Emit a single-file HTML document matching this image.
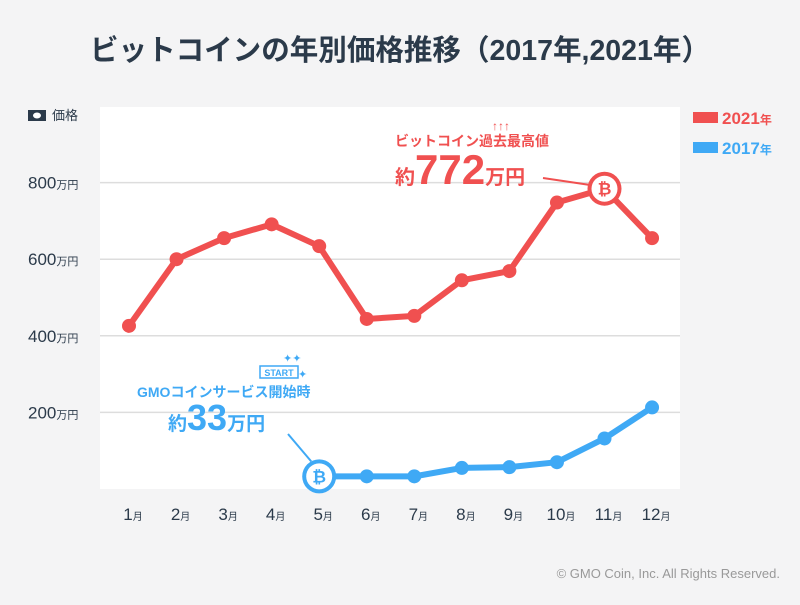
<!DOCTYPE html>
<html><head><meta charset="utf-8"><style>
body{margin:0;width:800px;height:600px;background:#f4f4f5;font-family:"Liberation Sans","Noto Sans CJK JP",sans-serif;overflow:hidden}
svg text{font-family:"Liberation Sans","Noto Sans CJK JP",sans-serif}
</style></head><body>
<svg id="chart" width="800" height="600" viewBox="0 0 800 600">
<text x="400" y="60" text-anchor="middle" font-size="29" font-weight="bold" fill="#2b3a4a" textLength="620" lengthAdjust="spacingAndGlyphs">ビットコインの年別価格推移（2017年,2021年）</text>
<rect x="100" y="107" width="580" height="382" fill="#fff"/>
<g id="grid"></g>
<g>
<rect x="28" y="110" width="18" height="11" fill="#2b3a4a"/><ellipse cx="37" cy="115.5" rx="4" ry="3" fill="#fff"/>
<text x="52" y="120" font-size="13" fill="#2b3a4a">価格</text></g>
<g id="yticks"></g><g id="xticks"></g>
<g>
<rect x="693" y="112" width="25" height="11" fill="#f05050"/>
<text x="722" y="124" font-size="17" font-weight="bold" fill="#f05050">2021<tspan font-size="12">年</tspan></text>
<rect x="693" y="142" width="25" height="11" fill="#3fa9f5"/>
<text x="722" y="154" font-size="17" font-weight="bold" fill="#3fa9f5">2017<tspan font-size="12">年</tspan></text>
</g>
<g id="series"></g>
<g id="annot"></g>
<text x="780" y="578" text-anchor="end" font-size="13" fill="#999">© GMO Coin, Inc. All Rights Reserved.</text>
</svg>
<script>
const months=["1月","2月","3月","4月","5月","6月","7月","8月","9月","10月","11月","12月"];
const yTicks=[200,400,600,800];
const values2021=[426,600,655,691,634,444,452,545,569,748,784,655];
const values2017=[null,null,null,null,33,33,33,55,57,70,132,213];
const NS="http://www.w3.org/2000/svg";
function x(i){return 129+i*47.55;}
function y(v){return 489-v*0.383;}
function mk(tag,attrs,parent){const e=document.createElementNS(NS,tag);for(const k in attrs)e.setAttribute(k,attrs[k]);parent.appendChild(e);return e;}
const grid=document.getElementById('grid'),yt=document.getElementById('yticks'),xt=document.getElementById('xticks');
yTicks.forEach(v=>{
 const l=mk('line',{x1:100,x2:680,y1:y(v),y2:y(v),stroke:'#ddd','stroke-width':1.5},grid);
 
 
 const t=mk('text',{x:28,y:y(v)+6,'font-size':17,fill:'#2b3a4a'},yt);
 
 
 t.innerHTML=v+'<tspan font-size="11">万円</tspan>';
});
months.forEach((m,i)=>{
 const t=mk('text',{x:x(i)+4,y:520,'text-anchor':'middle','font-size':17,fill:'#2b3a4a'},xt);
 
 
 t.innerHTML=m.replace('月','')+'<tspan font-size="10">月</tspan>';
});
const S=document.getElementById('series');
function drawSeries(vals,color,name){
 const pts=[];vals.forEach((v,i)=>{if(v!==null)pts.push([x(i),y(v),i]);});
 const p=mk('polyline',{points:pts.map(p=>p[0]+','+p[1]).join(' '),fill:'none',stroke:color,'stroke-width':6,'stroke-linejoin':'round'},S);
 
 
 pts.forEach(pt=>{
  const c=mk('circle',{cx:pt[0],cy:pt[1],r:7,fill:color},S);
  
  
 });
 return pts;
}
const p21=drawSeries(values2021,'#f05050','series-2021');
const p17=drawSeries(values2017,'#3fa9f5','series-2017');
const A=document.getElementById('annot');
function coin(cx,cy,color,name){
 const g=mk('g',{},A);
 
 
 mk('circle',{cx:cx,cy:cy,r:17,fill:color},g);
 mk('circle',{cx:cx,cy:cy,r:13,fill:'#fff'},g);
 mk('text',{x:cx,y:cy+6,'text-anchor':'middle','font-size':17,'font-weight':'bold',fill:color},g).textContent='₿';
}
const mx=p21[10];
mk('line',{x1:543,y1:178,x2:mx[0]-16,y2:mx[1]-4,stroke:'#f05050','stroke-width':2},A);
coin(mx[0],mx[1],'#f05050','max-coin-marker');
let t=mk('text',{x:395,y:146,'font-size':14,'font-weight':'bold',fill:'#f05050'},A);


t.textContent='ビットコイン過去最高値';
t=mk('text',{x:395,y:184,'font-size':20,'font-weight':'bold',fill:'#f05050'},A);


t.innerHTML='約<tspan font-size="42">772</tspan>万円';
t=mk('text',{x:492,y:130,'font-size':12,'font-weight':'bold',fill:'#f05050'},A);
t.textContent='↑↑↑';
const st=p17[0];
mk('line',{x1:288,y1:434,x2:st[0]-8,y2:st[1]-15,stroke:'#3fa9f5','stroke-width':2},A);
coin(st[0],st[1],'#3fa9f5','start-coin-marker');
const sb=mk('g',{},A);


mk('rect',{x:260,y:366,width:38,height:12,fill:'#fff',stroke:'#3fa9f5','stroke-width':1.5},sb);
mk('text',{x:279,y:376,'text-anchor':'middle','font-size':9,'font-weight':'bold',fill:'#3fa9f5'},sb).textContent='START';
mk('text',{x:283,y:362,'font-size':11,fill:'#3fa9f5'},sb).textContent='✦✦';
mk('text',{x:298,y:378,'font-size':11,fill:'#3fa9f5'},sb).textContent='✦';
t=mk('text',{x:137,y:397,'font-size':14,'font-weight':'bold',fill:'#3fa9f5'},A);


t.textContent='GMOコインサービス開始時';
t=mk('text',{x:168,y:430,'font-size':19,'font-weight':'bold',fill:'#3fa9f5'},A);


t.innerHTML='約<tspan font-size="36">33</tspan>万円';
</script>
</body></html>
